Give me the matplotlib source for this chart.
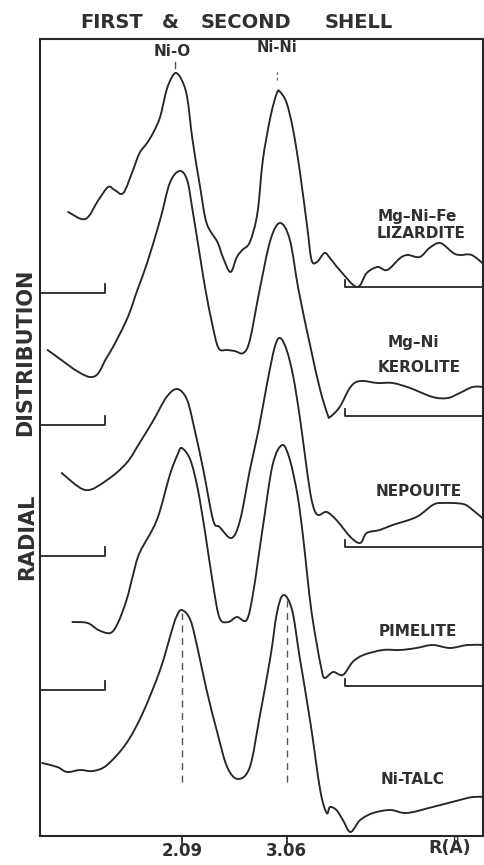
import matplotlib
matplotlib.use("Agg")
import matplotlib.pyplot as plt
from matplotlib.path import Path
from matplotlib.patches import PathPatch

# radial distribution curves, R in Angstrom, height above each curve's left baseline
liz_r = [1.04, 1.20, 1.32, 1.41, 1.47, 1.55, 1.64, 1.70, 1.77, 1.83, 1.89, 1.95, 2.00, 2.04,
         2.09, 2.14, 2.19, 2.26, 2.32, 2.42, 2.47, 2.54, 2.60, 2.65, 2.72, 2.79, 2.84, 2.91,
         2.97, 3.00, 3.06, 3.12, 3.18, 3.25, 3.29, 3.34, 3.41, 3.46, 3.55, 3.71, 3.80, 3.90,
         3.99, 4.11, 4.18, 4.29, 4.38, 4.48, 4.60, 4.66, 4.77, 4.89]
liz_g = [0.81, 0.74, 0.93, 1.06, 1.03, 1.00, 1.23, 1.40, 1.50, 1.61, 1.76, 2.03, 2.16, 2.20,
         2.13, 1.96, 1.53, 1.06, 0.70, 0.51, 0.36, 0.21, 0.36, 0.43, 0.51, 0.80, 1.33, 1.76,
         2.00, 2.01, 1.90, 1.63, 1.23, 0.66, 0.33, 0.31, 0.40, 0.35, 0.23, 0.06, 0.20, 0.26,
         0.23, 0.35, 0.38, 0.36, 0.45, 0.50, 0.40, 0.38, 0.38, 0.28]

ker_r = [0.85, 1.24, 1.40, 1.58, 1.68, 1.77, 1.89, 1.98, 2.07, 2.14, 2.19, 2.26, 2.31, 2.37,
         2.43, 2.51, 2.58, 2.66, 2.72, 2.81, 2.91, 3.00, 3.09, 3.17, 3.28, 3.37, 3.44,
         3.46, 3.55, 3.65, 3.74, 3.90, 4.04, 4.20, 4.41, 4.55, 4.66, 4.78, 4.89]
ker_g = [0.75, 0.48, 0.68, 1.05, 1.35, 1.62, 2.05, 2.42, 2.54, 2.45, 2.15, 1.68, 1.35, 1.02,
         0.77, 0.75, 0.74, 0.72, 0.85, 1.35, 1.85, 2.02, 1.85, 1.35, 0.78, 0.35, 0.10,
         0.08, 0.18, 0.38, 0.44, 0.42, 0.42, 0.37, 0.28, 0.27, 0.32, 0.38, 0.38]

nep_r = [0.98, 1.20, 1.40, 1.58, 1.70, 1.83, 1.95, 2.05, 2.14, 2.21, 2.29, 2.38, 2.44, 2.55,
         2.63, 2.72, 2.80, 2.88, 2.95, 3.00, 3.06, 3.12, 3.18, 3.23, 3.28, 3.32, 3.36, 3.43,
         3.52, 3.65, 3.74, 3.80, 3.92, 4.04, 4.26, 4.41, 4.50, 4.69, 4.78, 4.89]
nep_g = [0.83, 0.66, 0.76, 0.93, 1.13, 1.36, 1.59, 1.67, 1.56, 1.26, 0.86, 0.36, 0.29, 0.18,
         0.36, 0.86, 1.26, 1.73, 2.09, 2.18, 2.06, 1.80, 1.40, 1.00, 0.62, 0.45, 0.41, 0.44,
         0.36, 0.19, 0.13, 0.23, 0.26, 0.31, 0.39, 0.51, 0.53, 0.52, 0.46, 0.36]

pim_r = [1.08, 1.22, 1.32, 1.43, 1.50, 1.58, 1.64, 1.70, 1.86, 1.98, 2.05, 2.09, 2.17, 2.24,
         2.31, 2.38, 2.44, 2.52, 2.60, 2.69, 2.75, 2.84, 2.93, 3.02, 3.09, 3.16, 3.21, 3.25,
         3.29, 3.34, 3.38, 3.41, 3.49, 3.58, 3.67, 3.77, 3.95, 4.11, 4.26, 4.41, 4.57, 4.73,
         4.89]
pim_g = [0.68, 0.67, 0.60, 0.57, 0.67, 0.90, 1.15, 1.37, 1.70, 2.15, 2.35, 2.42, 2.30, 2.00,
         1.55, 1.05, 0.72, 0.68, 0.73, 0.70, 0.97, 1.63, 2.25, 2.45, 2.30, 1.95, 1.55, 1.15,
         0.78, 0.45, 0.22, 0.12, 0.18, 0.15, 0.28, 0.35, 0.40, 0.40, 0.42, 0.45, 0.42, 0.45,
         0.45]

tal_r = [0.80, 0.94, 1.03, 1.15, 1.27, 1.40, 1.58, 1.73, 1.89, 2.00, 2.04, 2.09, 2.17, 2.24,
         2.32, 2.42, 2.51, 2.61, 2.72, 2.81, 2.91, 2.97, 3.03, 3.11, 3.18, 3.28, 3.37, 3.43,
         3.46, 3.52, 3.58, 3.65, 3.74, 3.86, 4.02, 4.17, 4.41, 4.66, 4.78, 4.89]
tal_g = [0.74, 0.70, 0.65, 0.67, 0.66, 0.72, 0.94, 1.24, 1.67, 2.07, 2.20, 2.27, 2.17, 1.87,
         1.47, 1.04, 0.70, 0.58, 0.70, 1.20, 1.80, 2.24, 2.42, 2.27, 1.80, 1.14, 0.47, 0.24,
         0.30, 0.27, 0.17, 0.05, 0.17, 0.24, 0.27, 0.24, 0.30, 0.37, 0.40, 0.40]

offsets = [5.44, 4.12, 2.81, 1.47, 0.0]
right_base = [5.50, 4.21, 2.90, 1.51]

peak_r = [2.09, 3.06]
peak_labels = ["2.09", "3.06"]

curves = [(liz_r, liz_g), (ker_r, ker_g), (nep_r, nep_g), (pim_r, pim_g), (tal_r, tal_g)]

ink = '#262626'
txt = '#303030'


def smooth_path(xs, ys):
    # Catmull-Rom through the read points, as cubic Bezier segments
    pts = list(zip(xs, ys))
    n = len(pts)
    verts = [pts[0]]
    codes = [Path.MOVETO]
    for i in range(n - 1):
        p0 = pts[i - 1] if i > 0 else pts[i]
        p1 = pts[i]
        p2 = pts[i + 1]
        p3 = pts[i + 2] if i + 2 < n else pts[i + 1]
        c1 = (p1[0] + (p2[0] - p0[0]) / 6, p1[1] + (p2[1] - p0[1]) / 6)
        c2 = (p2[0] - (p3[0] - p1[0]) / 6, p2[1] - (p3[1] - p1[1]) / 6)
        verts += [c1, c2, p2]
        codes += [Path.CURVE4] * 3
    return Path(verts, codes)


fig = plt.figure(figsize=(4.85, 8.65), dpi=100)
ax = fig.add_axes([40 / 485, 1 - 836 / 865, 443 / 485, 797 / 865])
ax.set_xlim(0.78, 4.875)
ax.set_ylim(0.01, 7.98)

for (r, g), off in zip(curves, offsets):
    ax.add_patch(PathPatch(smooth_path(r, [v + off for v in g]), fill=False,
                           edgecolor=ink, lw=1.35, joinstyle='round', capstyle='round'))

# baseline brackets of the stacked curves
for off, rb in zip(offsets[:4], right_base):
    ax.plot([0.78, 1.38, 1.38], [off, off, off + 0.09], color=ink, lw=1.3)
    ax.plot([3.60, 3.60, 4.875], [rb + 0.07, rb, rb], color=ink, lw=1.3)

lab = dict(ha='center', va='center', fontsize=11, fontweight='bold', color=txt)
ax.text(4.27, 6.20, "Mg\u2013Ni\u2013Fe", **lab)
ax.text(4.30, 6.04, "LIZARDITE", **lab)
ax.text(4.23, 4.94, "Mg\u2013Ni", **lab)
ax.text(4.28, 4.69, "KEROLITE", **lab)
ax.text(4.28, 3.45, "NEPOUITE", **lab)
ax.text(4.27, 2.05, "PIMELITE", **lab)
ax.text(4.22, 0.57, "Ni-TALC", **lab)

# dashed peak markers on Ni-talc
ax.plot([2.09, 2.09], [0.55, 2.24], color='#555555', lw=1.0, ls=(0, (5, 4)))
ax.plot([3.06, 3.06], [0.55, 2.37], color='#555555', lw=1.0, ls=(0, (5, 4)))

ax.text(2.00, 7.86, "Ni-O", ha='center', va='center', fontsize=11, fontweight='bold', color=txt)
ax.plot([2.03, 2.03], [7.69, 7.75], color='#555555', lw=1.0)
ax.text(2.97, 7.89, "Ni-Ni", ha='center', va='center', fontsize=10.5, fontweight='bold', color=txt)
ax.plot([2.97, 2.97], [7.57, 7.67], color='#777777', lw=1.0, ls=(0, (2, 2)))

ax.set_xticks(peak_r)
ax.set_xticklabels(peak_labels, fontsize=12, fontweight='bold', color=txt)
ax.tick_params(axis='x', direction='out', length=7, width=1.3, pad=-3, color=ink)
ax.set_yticks([])
ax.text(4.57, -0.11, "R(\u00c5)", ha='center', va='center', fontsize=12.5, fontweight='bold',
        color=txt, clip_on=False)

for s in ax.spines.values():
    s.set_linewidth(1.5)
    s.set_color(ink)

# title words and rotated axis label
for word, xp in [("FIRST", 112), ("&", 170), ("SECOND", 246), ("SHELL", 359)]:
    fig.text(xp / 485, 1 - 22 / 865, word, ha='center', va='center', fontsize=14,
             fontweight='bold', color=txt)
fig.text(25 / 485, 1 - 352 / 865, "DISTRIBUTION", rotation=90, ha='center', va='center',
         fontsize=15, fontweight='bold', color=txt)
fig.text(27 / 485, 1 - 537 / 865, "RADIAL", rotation=90, ha='center', va='center',
         fontsize=15, fontweight='bold', color=txt)

fig.savefig("out.png", dpi=100, facecolor='white')
